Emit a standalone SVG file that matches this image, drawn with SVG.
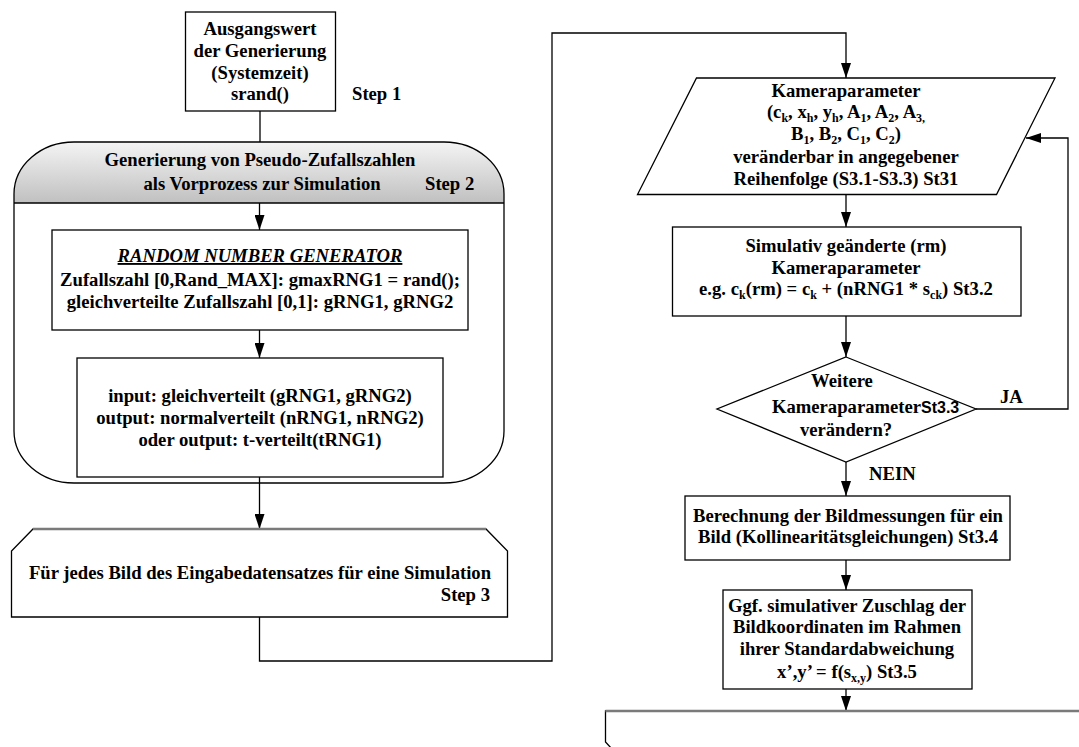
<svg xmlns="http://www.w3.org/2000/svg" width="1079" height="747" viewBox="0 0 1079 747">
<defs>
<linearGradient id="hdr" x1="0" y1="0" x2="0" y2="1"><stop offset="0" stop-color="#f4f4f4"/><stop offset="1" stop-color="#c0c0c0"/></linearGradient>
<marker id="arr" markerUnits="userSpaceOnUse" markerWidth="15" markerHeight="10" refX="15" refY="5" orient="auto"><path d="M0,0 L15,5 L0,10 Z" fill="#000"/></marker>
</defs>
<style>
text{font-family:"Liberation Serif","Times New Roman",serif;font-weight:bold;font-size:18.67px;fill:#000}
.c{text-anchor:middle}
.r{text-anchor:end}
.sub{font-size:12px}
.box{fill:#fff;stroke:#000;stroke-width:1.3}
.conn{fill:none;stroke:#000;stroke-width:1.3}
.gray{fill:none;stroke:#7a7a7a;stroke-width:2.5}
.sans{font-family:"Liberation Sans",Arial,sans-serif;font-size:16px}
</style>
<rect x="0" y="0" width="1079" height="747" fill="#fff"/>

<g id="connectors">
<path class="conn" d="M260,111 V142"/>
<path class="conn" d="M259.5,203 V230" marker-end="url(#arr)"/>
<path class="conn" d="M259.5,330 V358" marker-end="url(#arr)"/>
<path class="conn" d="M259.5,477 V529" marker-end="url(#arr)"/>
<path class="conn" d="M259.5,617 V661 H552 V33 H846 V78" marker-end="url(#arr)"/>
<path class="conn" d="M846,194 V227" marker-end="url(#arr)"/>
<path class="conn" d="M846,316 V357" marker-end="url(#arr)"/>
<path class="conn" d="M976,409 H1068 V138 H1026" marker-end="url(#arr)"/>
<path class="conn" d="M846,462 V496" marker-end="url(#arr)"/>
<path class="conn" d="M846,560 V590" marker-end="url(#arr)"/>
<path class="conn" d="M846,689 V711" marker-end="url(#arr)"/>
</g>

<g id="start">
<rect class="box" x="185.5" y="12" width="150" height="99"/>
<text class="c" x="260" y="34.5">Ausgangswert</text>
<text class="c" x="260" y="56.5">der Generierung</text>
<text class="c" x="260" y="78.5">(Systemzeit)</text>
<text class="c" x="260" y="100">srand()</text>
<text x="352" y="100">Step 1</text>
</g>

<g id="step2">
<path d="M14,203 V194 A60,52 0 0 1 74,142 H444 A60,52 0 0 1 504,194 V203 Z" fill="url(#hdr)"/>
<rect x="14" y="142" width="490" height="341" rx="60" ry="52" fill="none" stroke="#000" stroke-width="1.3"/>
<line x1="14" y1="203" x2="504" y2="203" stroke="#000" stroke-width="1.3"/>
<text class="c" x="260" y="166">Generierung von Pseudo-Zufallszahlen</text>
<text class="c" x="262" y="190">als Vorprozess zur Simulation</text>
<text x="425" y="190">Step 2</text>
</g>

<g id="rng">
<rect class="box" x="52" y="230" width="416" height="100"/>
<text class="c" x="260" y="262" font-style="italic" text-decoration="underline">RANDOM NUMBER GENERATOR</text>
<text class="c" x="260" y="285.5">Zufallszahl [0,Rand_MAX]: gmaxRNG1 = rand();</text>
<text class="c" x="260" y="307.5">gleichverteilte Zufallszahl [0,1]: gRNG1, gRNG2</text>
</g>

<g id="transform">
<rect class="box" x="77" y="358" width="366" height="119"/>
<text class="c" x="260" y="401.5">input: gleichverteilt (gRNG1, gRNG2)</text>
<text class="c" x="260" y="423.5">output: normalverteilt (nRNG1, nRNG2)</text>
<text class="c" x="260" y="445.5">oder output: t-verteilt(tRNG1)</text>
</g>

<g id="step3">
<polygon class="box" points="33,529 486,529 507.5,551 507.5,617 11.5,617 11.5,551"/>
<line class="gray" x1="33" y1="529" x2="486" y2="529"/>
<text class="c" x="260" y="579">Für jedes Bild des Eingabedatensatzes für eine Simulation</text>
<text class="r" x="490" y="601">Step 3</text>
</g>

<g id="st31">
<polygon class="box" points="696.5,78 1055,78 996.5,194.5 637.5,194.5"/>
<text class="c" x="846" y="97">Kameraparameter</text>
<text class="c" x="846" y="118">(c<tspan class="sub" dy="4">k</tspan><tspan dy="-4">, x</tspan><tspan class="sub" dy="4">h</tspan><tspan dy="-4">, y</tspan><tspan class="sub" dy="4">h</tspan><tspan dy="-4">, A</tspan><tspan class="sub" dy="4">1</tspan><tspan dy="-4">, A</tspan><tspan class="sub" dy="4">2</tspan><tspan dy="-4">, A</tspan><tspan class="sub" dy="4">3,</tspan></text>
<text class="c" x="846" y="140">B<tspan class="sub" dy="4">1</tspan><tspan dy="-4">, B</tspan><tspan class="sub" dy="4">2</tspan><tspan dy="-4">, C</tspan><tspan class="sub" dy="4">1</tspan><tspan dy="-4">, C</tspan><tspan class="sub" dy="4">2</tspan><tspan dy="-4">)</tspan></text>
<text class="c" x="846" y="163">veränderbar in angegebener</text>
<text class="c" x="846" y="185">Reihenfolge (S3.1-S3.3) St31</text>
</g>

<g id="st32">
<rect class="box" x="672.5" y="227" width="348.5" height="89"/>
<text class="c" x="846" y="252">Simulativ geänderte (rm)</text>
<text class="c" x="846" y="273.5">Kameraparameter</text>
<text class="c" x="846" y="295">e.g. c<tspan class="sub" dy="4">k</tspan><tspan dy="-4">(rm) = c</tspan><tspan class="sub" dy="4">k</tspan><tspan dy="-4"> + (nRNG1 * s</tspan><tspan class="sub" dy="4">ck</tspan><tspan dy="-4">) St3.2</tspan></text>
</g>

<g id="st33">
<polygon class="box" points="846,357 976,409 846,462 717,409"/>
<text class="c" x="842" y="387">Weitere</text>
<text class="c" x="846.5" y="413">Kameraparameter</text>
<text class="sans" x="921" y="413">St3.3</text>
<text class="c" x="846" y="436">verändern?</text>
<text x="1000" y="403">JA</text>
<text x="869" y="480">NEIN</text>
</g>

<g id="st34">
<rect class="box" x="685" y="496" width="325" height="64"/>
<text class="c" x="848" y="521.5">Berechnung der Bildmessungen für ein</text>
<text class="c" x="848" y="543">Bild (Kollinearitätsgleichungen) St3.4</text>
</g>

<g id="st35">
<rect class="box" x="723" y="590" width="249" height="99"/>
<text class="c" x="847" y="611.5">Ggf. simulativer Zuschlag der</text>
<text class="c" x="847" y="633">Bildkoordinaten im Rahmen</text>
<text class="c" x="847" y="655">ihrer Standardabweichung</text>
<text class="c" x="847" y="678">x’,y’ = f(s<tspan class="sub" dy="4">x,y</tspan><tspan dy="-4">) St3.5</tspan></text>
</g>

<g id="loopend">
<path d="M1085,711 H605.5 V742 L612,749" fill="#fff" stroke="#000" stroke-width="1.3"/>
<line class="gray" x1="605.5" y1="711" x2="1085" y2="711"/>
</g>
</svg>
